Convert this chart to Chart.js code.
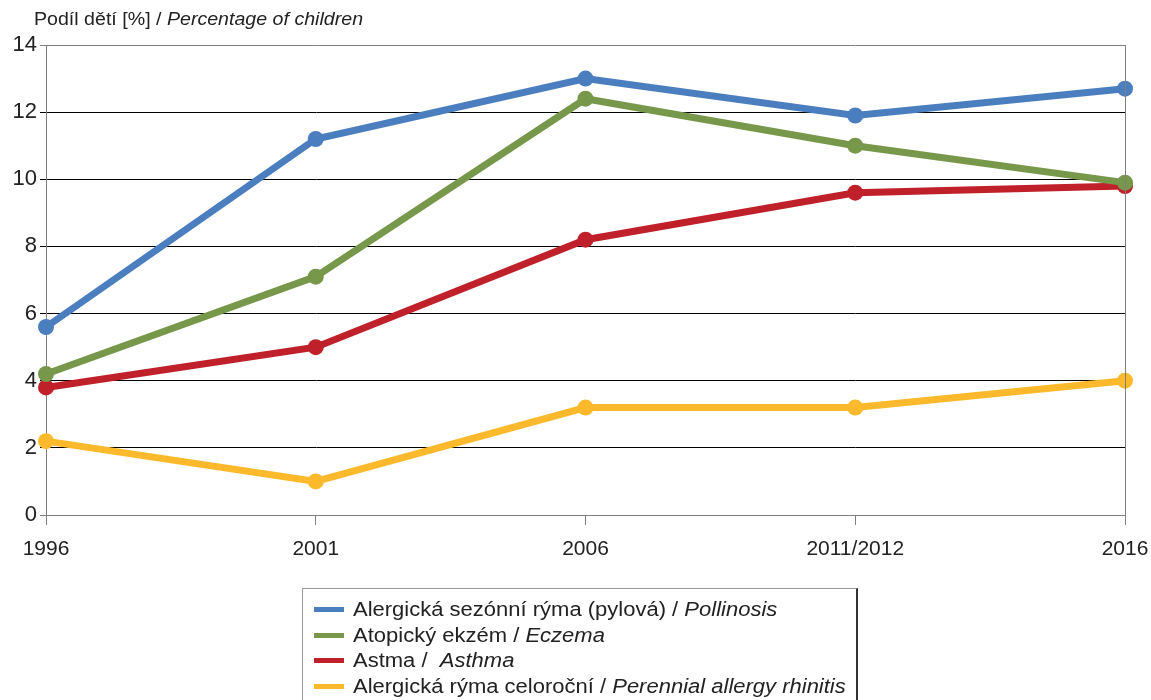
<!DOCTYPE html>
<html>
<head>
<meta charset="utf-8">
<script src="https://cdn.jsdelivr.net/npm/chart.js@4"></script>
<style>
  body { margin: 0; background: #fff; font-family: "Liberation Sans", Arial, sans-serif; }
  #wrap { position: relative; width: 1151px; height: 700px; overflow: hidden; }
  #yTitle { position: absolute; left: 34px; top: 9px; font-size: 17.5px; color: #222;
    transform: scaleX(1.12); transform-origin: left top; white-space: nowrap; }
  #legend { position: absolute; left: 302px; top: 588px; width: 553px; height: 130px;
    border: 1px solid #999; border-right: 2px solid #333; font-size: 20px; color: #222; }
  .item { position: absolute; left: 11px; height: 24px; line-height: 24px; white-space: nowrap; }
  .sw { display: inline-block; width: 30px; height: 5px; vertical-align: middle; margin-right: 9px; position: relative; top: -1px; }
  .txt { display: inline-block; transform: scaleX(1.1); transform-origin: left center; }
</style>
</head>
<body>
<div id="wrap">
  <canvas id="allergyChart" width="1151" height="700"></canvas>
  <div id="yTitle">Podíl dětí [%] / <i>Percentage of children</i></div>
  <div id="legend"></div>
</div>
<script>
const years = ['1996', '2001', '2006', '2011/2012', '2016'];
const pollinosis = [5.6, 11.2, 13.0, 11.9, 12.7];
const eczema = [4.2, 7.1, 12.4, 11.0, 9.9];
const asthma = [3.8, 5.0, 8.2, 9.6, 9.8];
const rhinitis = [2.2, 1.0, 3.2, 3.2, 4.0];

const series = [
  { cz: 'Alergická sezónní rýma (pylová) / ', en: 'Pollinosis', data: pollinosis, color: '#4a7ebf', order: 3 },
  { cz: 'Atopický ekzém / ', en: 'Eczema', data: eczema, color: '#77984a', order: 1 },
  { cz: 'Astma /  ', en: 'Asthma', data: asthma, color: '#c0202a', order: 2 },
  { cz: 'Alergická rýma celoroční / ', en: 'Perennial allergy rhinitis', data: rhinitis, color: '#fdb92c', order: 0 }
];

// legend with the English part in italics
const legendBox = document.getElementById('legend');
series.forEach((s, i) => {
  const row = document.createElement('div');
  row.className = 'item';
  row.style.top = (8 + i * 25.5) + 'px';
  row.innerHTML = '<span class="sw" style="background:' + s.color + '"></span>' +
    '<span class="txt">' + s.cz.replace(/ /g, '&nbsp;') + '<i>' + s.en + '</i></span>';
  legendBox.appendChild(row);
});

// right frame line of the plot area
const frame = {
  id: 'frame',
  afterDraw(chart) {
    const a = chart.chartArea, ctx = chart.ctx;
    ctx.save();
    ctx.strokeStyle = '#808080';
    ctx.lineWidth = 1;
    ctx.beginPath();
    ctx.moveTo(a.right + 0.5, a.top);
    ctx.lineTo(a.right + 0.5, a.bottom + 10);
    ctx.stroke();
    ctx.restore();
  }
};

const ctx = document.getElementById('allergyChart').getContext('2d');
new Chart(ctx, {
  type: 'line',
  data: {
    labels: years,
    datasets: series.map(s => ({
      label: s.en,
      data: s.data,
      borderColor: s.color,
      backgroundColor: s.color,
      borderWidth: 7,
      pointRadius: 8,
      pointBorderWidth: 0,
      tension: 0,
      clip: false,
      order: s.order
    }))
  },
  options: {
    responsive: false,
    animation: false,
    layout: { autoPadding: false, padding: { top: 45, right: 26, left: 0, bottom: 0 } },
    plugins: {
      legend: { display: false },
      tooltip: { enabled: false }
    },
    scales: {
      x: {
        offset: false,
        afterFit: s => { s.height = 185; s.paddingLeft = 0; s.paddingRight = 0; },
        grid: { drawOnChartArea: false, color: '#808080', tickLength: 10 },
        border: { color: '#808080' },
        ticks: { color: '#222', font: { family: 'Liberation Sans', size: 21 }, padding: 12, maxRotation: 0 }
      },
      y: {
        min: 0,
        max: 14,
        afterFit: s => { s.width = 46; },
        grid: {
          color: c => (c.tick.value === 0 || c.tick.value === 14) ? '#808080' : '#000',
          tickLength: 6
        },
        border: { color: '#808080' },
        ticks: { stepSize: 2, color: '#222', font: { family: 'Liberation Sans', size: 22 }, padding: 3 }
      }
    }
  },
  plugins: [frame]
});
</script>
</body>
</html>
